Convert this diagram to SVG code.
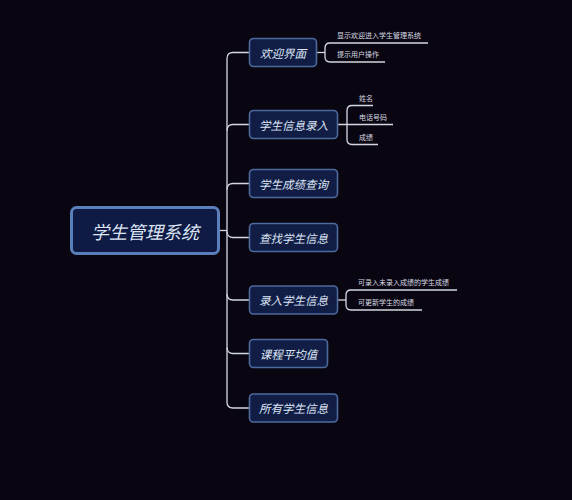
<svg xmlns="http://www.w3.org/2000/svg" width="572" height="500" viewBox="0 0 572 500">
<style>
.bg{fill:#0a0611}
.node rect{fill:#111d45;stroke:#4d6a9e;stroke-width:1.6}
.root rect{fill:#0f1b44;stroke:#5a7fba;stroke-width:3}
.nt{font-family:"Noto Sans CJK SC","Noto Sans",sans-serif;font-style:italic;fill:#dde6f5;text-anchor:middle;dominant-baseline:central}
.lt{font-family:"Noto Sans CJK SC","Noto Sans",sans-serif;font-size:7px;fill:#d6d9e2}
.c path{fill:none;stroke:#d4d7e0;stroke-width:1.3}
</style>
<rect class="bg" x="0" y="0" width="572" height="500"/>
<g id="connectors" class="c">
<path d="M219,230.5 H227"/>
<path d="M249,52.5 H233 Q227,52.5 227,58.5 V402 Q227,408 233,408 H249"/>
<path d="M227,130.5 Q227,124.5 233,124.5 H249"/>
<path d="M227,189.5 Q227,183.5 233,183.5 H249"/>
<path d="M227,231.5 Q227,237.5 233,237.5 H249"/>
<path d="M227,294 Q227,300 233,300 H249"/>
<path d="M227,347.5 Q227,353.5 233,353.5 H249"/>
<path d="M317,52.5 H325"/>
<path d="M428,43 H330 Q325,43 325,48 V57 Q325,62 330,62 H385"/>
<path d="M338,124.5 H393"/>
<path d="M373,105.5 H352 Q347,105.5 347,110.5 V139.5 Q347,144.5 352,144.5 H378"/>
<path d="M338,300 H346"/>
<path d="M457,290 H351 Q346,290 346,295 V305 Q346,310 351,310 H422"/>
</g>
<g id="root" class="root">
<rect x="71.5" y="207.5" width="147" height="46" rx="5"/>
<text class="nt" x="145" y="230.5" font-size="18">学生管理系统</text>
</g>
<g id="n1" class="node">
<rect x="249.5" y="38.5" width="67" height="28" rx="4"/>
<text class="nt" x="283" y="52.5" font-size="11.5">欢迎界面</text>
</g>
<g id="n2" class="node">
<rect x="249.5" y="110.5" width="88" height="28" rx="4"/>
<text class="nt" x="293.5" y="124.5" font-size="11.5">学生信息录入</text>
</g>
<g id="n3" class="node">
<rect x="249.5" y="169.5" width="88" height="28" rx="4"/>
<text class="nt" x="293.5" y="183.5" font-size="11.5">学生成绩查询</text>
</g>
<g id="n4" class="node">
<rect x="249.5" y="223.5" width="88" height="28" rx="4"/>
<text class="nt" x="293.5" y="237.5" font-size="11.5">查找学生信息</text>
</g>
<g id="n5" class="node">
<rect x="249.5" y="286" width="88" height="28" rx="4"/>
<text class="nt" x="293.5" y="300" font-size="11.5">录入学生信息</text>
</g>
<g id="n6" class="node">
<rect x="249.5" y="339.5" width="78" height="28" rx="4"/>
<text class="nt" x="288.5" y="353.5" font-size="11.5">课程平均值</text>
</g>
<g id="n7" class="node">
<rect x="249.5" y="394" width="88" height="28" rx="4"/>
<text class="nt" x="293.5" y="408" font-size="11.5">所有学生信息</text>
</g>
<g id="leaves">
<text class="lt" x="337" y="38">显示欢迎进入学生管理系统</text>
<text class="lt" x="337" y="57">提示用户操作</text>
<text class="lt" x="359" y="100.5">姓名</text>
<text class="lt" x="359" y="119.5">电话号码</text>
<text class="lt" x="359" y="139.5">成绩</text>
<text class="lt" x="358" y="285">可录入未录入成绩的学生成绩</text>
<text class="lt" x="358" y="305">可更新学生的成绩</text>
</g>
</svg>
